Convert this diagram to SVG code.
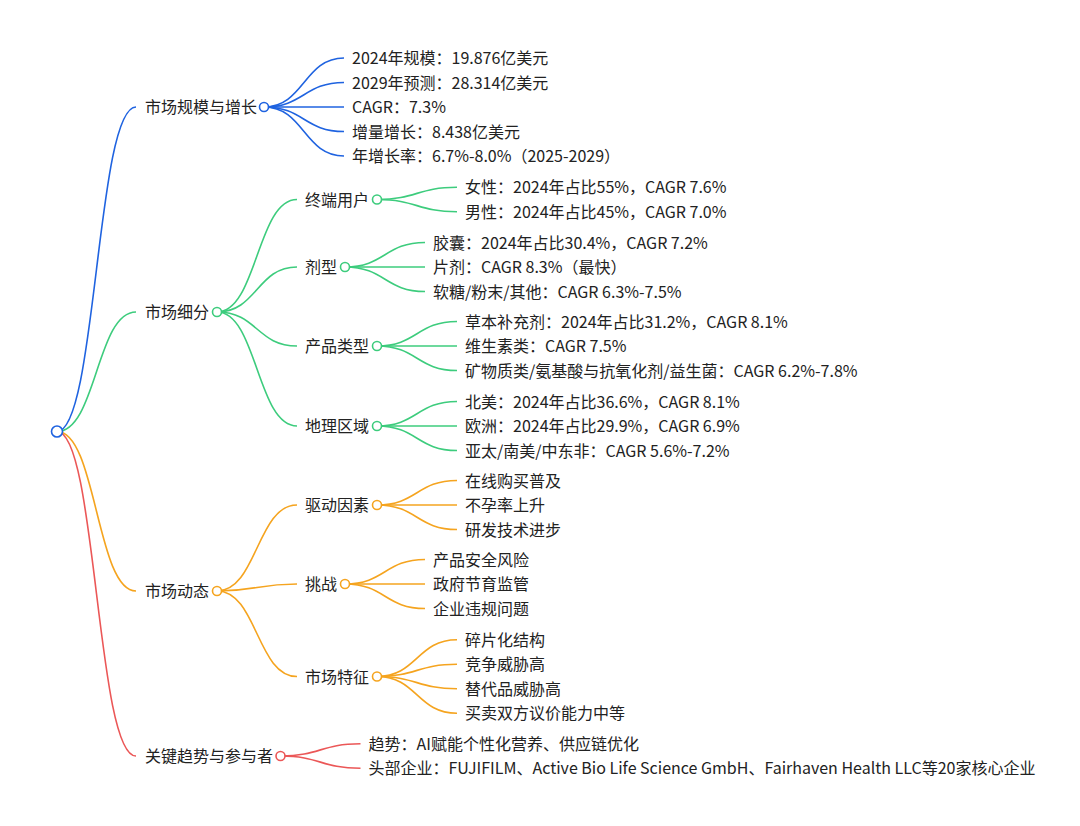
<svg xmlns="http://www.w3.org/2000/svg" width="1080" height="826" viewBox="0 0 1080 826">
<style>
text{font-family:"Noto Sans CJK SC","Noto Sans",sans-serif;font-size:16px;fill:#222}
.l{fill:none;stroke-width:1.6}
.b{stroke:#1f63e0}.g{stroke:#3dcc7d}.o{stroke:#f5a41f}.r{stroke:#eb5757}
circle{fill:#fff;stroke-width:1.6}
</style>
<rect width="1080" height="826" fill="#fff"/>
<g id="connectors">
<path class="l b" d="M57,431.5 C96.5,431.5 96.5,107 136,107"/>
<path class="l g" d="M57,431.5 C96.5,431.5 96.5,312 136,312"/>
<path class="l o" d="M57,431.5 C96.5,431.5 96.5,591 136,591"/>
<path class="l r" d="M57,431.5 C96.5,431.5 96.5,756 136,756"/>
<path class="l b" d="M264,107 C304,107 304,58 344,58"/>
<path class="l b" d="M264,107 C304,107 304,82.5 344,82.5"/>
<path class="l b" d="M264,107 C304,107 304,107 344,107"/>
<path class="l b" d="M264,107 C304,107 304,131.5 344,131.5"/>
<path class="l b" d="M264,107 C304,107 304,156 344,156"/>
<path class="l g" d="M217,312 C257,312 257,199.5 297,199.5"/>
<path class="l g" d="M217,312 C257,312 257,267 297,267"/>
<path class="l g" d="M217,312 C257,312 257,346 297,346"/>
<path class="l g" d="M217,312 C257,312 257,426 297,426"/>
<path class="l g" d="M377,199.5 C417,199.5 417,187.25 457,187.25"/>
<path class="l g" d="M377,199.5 C417,199.5 417,211.75 457,211.75"/>
<path class="l g" d="M345,267 C385,267 385,242.5 425,242.5"/>
<path class="l g" d="M345,267 C385,267 385,267 425,267"/>
<path class="l g" d="M345,267 C385,267 385,291.5 425,291.5"/>
<path class="l g" d="M377,346 C417,346 417,321.5 457,321.5"/>
<path class="l g" d="M377,346 C417,346 417,346 457,346"/>
<path class="l g" d="M377,346 C417,346 417,370.5 457,370.5"/>
<path class="l g" d="M377,426 C417,426 417,401.5 457,401.5"/>
<path class="l g" d="M377,426 C417,426 417,426 457,426"/>
<path class="l g" d="M377,426 C417,426 417,450.5 457,450.5"/>
<path class="l o" d="M217,591 C257,591 257,505 297,505"/>
<path class="l o" d="M217,591 C257,591 257,584 297,584"/>
<path class="l o" d="M217,591 C257,591 257,676.5 297,676.5"/>
<path class="l o" d="M377,505 C417,505 417,480.5 457,480.5"/>
<path class="l o" d="M377,505 C417,505 417,505 457,505"/>
<path class="l o" d="M377,505 C417,505 417,529.5 457,529.5"/>
<path class="l o" d="M345,584 C385,584 385,559.5 425,559.5"/>
<path class="l o" d="M345,584 C385,584 385,584 425,584"/>
<path class="l o" d="M345,584 C385,584 385,608.5 425,608.5"/>
<path class="l o" d="M377,676.5 C417,676.5 417,639.75 457,639.75"/>
<path class="l o" d="M377,676.5 C417,676.5 417,664.25 457,664.25"/>
<path class="l o" d="M377,676.5 C417,676.5 417,688.75 457,688.75"/>
<path class="l o" d="M377,676.5 C417,676.5 417,713.25 457,713.25"/>
<path class="l r" d="M280.5,756 C320.5,756 320.5,743.75 360.5,743.75"/>
<path class="l r" d="M280.5,756 C320.5,756 320.5,768.25 360.5,768.25"/>
</g>
<g id="root"><circle class="b" cx="57" cy="431.5" r="5.5" stroke-width="2"/></g>
<g id="n-size"><text x="145" y="113">市场规模与增长</text><circle class="b" cx="264" cy="107" r="4.5"/></g>
<g id="n-size-1"><text x="352" y="64">2024年规模：19.876亿美元</text></g>
<g id="n-size-2"><text x="352" y="88.5">2029年预测：28.314亿美元</text></g>
<g id="n-size-3"><text x="352" y="113">CAGR：7.3%</text></g>
<g id="n-size-4"><text x="352" y="137.5">增量增长：8.438亿美元</text></g>
<g id="n-size-5"><text x="352" y="162">年增长率：6.7%-8.0%（2025-2029）</text></g>
<g id="n-seg"><text x="145" y="318">市场细分</text><circle class="g" cx="217" cy="312" r="4.5"/></g>
<g id="n-user"><text x="305" y="205.5">终端用户</text><circle class="g" cx="377" cy="199.5" r="4.5"/></g>
<g id="n-user-1"><text x="465" y="193.25">女性：2024年占比55%，CAGR 7.6%</text></g>
<g id="n-user-2"><text x="465" y="217.75">男性：2024年占比45%，CAGR 7.0%</text></g>
<g id="n-form"><text x="305" y="273">剂型</text><circle class="g" cx="345" cy="267" r="4.5"/></g>
<g id="n-form-1"><text x="433" y="248.5">胶囊：2024年占比30.4%，CAGR 7.2%</text></g>
<g id="n-form-2"><text x="433" y="273">片剂：CAGR 8.3%（最快）</text></g>
<g id="n-form-3"><text x="433" y="297.5">软糖/粉末/其他：CAGR 6.3%-7.5%</text></g>
<g id="n-type"><text x="305" y="352">产品类型</text><circle class="g" cx="377" cy="346" r="4.5"/></g>
<g id="n-type-1"><text x="465" y="327.5">草本补充剂：2024年占比31.2%，CAGR 8.1%</text></g>
<g id="n-type-2"><text x="465" y="352">维生素类：CAGR 7.5%</text></g>
<g id="n-type-3"><text x="465" y="376.5">矿物质类/氨基酸与抗氧化剂/益生菌：CAGR 6.2%-7.8%</text></g>
<g id="n-geo"><text x="305" y="432">地理区域</text><circle class="g" cx="377" cy="426" r="4.5"/></g>
<g id="n-geo-1"><text x="465" y="407.5">北美：2024年占比36.6%，CAGR 8.1%</text></g>
<g id="n-geo-2"><text x="465" y="432">欧洲：2024年占比29.9%，CAGR 6.9%</text></g>
<g id="n-geo-3"><text x="465" y="456.5">亚太/南美/中东非：CAGR 5.6%-7.2%</text></g>
<g id="n-dyn"><text x="145" y="597">市场动态</text><circle class="o" cx="217" cy="591" r="4.5"/></g>
<g id="n-drv"><text x="305" y="511">驱动因素</text><circle class="o" cx="377" cy="505" r="4.5"/></g>
<g id="n-drv-1"><text x="465" y="486.5">在线购买普及</text></g>
<g id="n-drv-2"><text x="465" y="511">不孕率上升</text></g>
<g id="n-drv-3"><text x="465" y="535.5">研发技术进步</text></g>
<g id="n-chl"><text x="305" y="590">挑战</text><circle class="o" cx="345" cy="584" r="4.5"/></g>
<g id="n-chl-1"><text x="433" y="565.5">产品安全风险</text></g>
<g id="n-chl-2"><text x="433" y="590">政府节育监管</text></g>
<g id="n-chl-3"><text x="433" y="614.5">企业违规问题</text></g>
<g id="n-feat"><text x="305" y="682.5">市场特征</text><circle class="o" cx="377" cy="676.5" r="4.5"/></g>
<g id="n-feat-1"><text x="465" y="645.75">碎片化结构</text></g>
<g id="n-feat-2"><text x="465" y="670.25">竞争威胁高</text></g>
<g id="n-feat-3"><text x="465" y="694.75">替代品威胁高</text></g>
<g id="n-feat-4"><text x="465" y="719.25">买卖双方议价能力中等</text></g>
<g id="n-key"><text x="145" y="762">关键趋势与参与者</text><circle class="r" cx="280.5" cy="756" r="4.5"/></g>
<g id="n-key-1"><text x="368.5" y="749.75">趋势：AI赋能个性化营养、供应链优化</text></g>
<g id="n-key-2"><text x="368.5" y="774.25">头部企业：FUJIFILM、Active Bio Life Science GmbH、Fairhaven Health LLC等20家核心企业</text></g>
</svg>
